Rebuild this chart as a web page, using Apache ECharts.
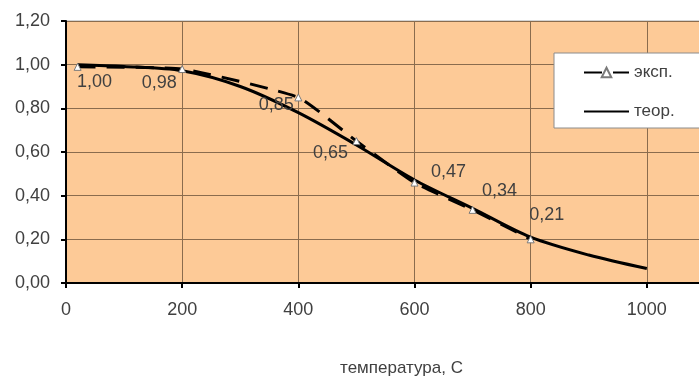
<!DOCTYPE html>
<html>
<head>
<meta charset="utf-8">
<script src="https://cdn.jsdelivr.net/npm/echarts@6/dist/echarts.min.js"></script>
<style>html,body{margin:0;padding:0;background:#fff}#c{width:699px;height:380px}</style>
</head>
<body>
<div id="c"></div>
<script>
// ---- data ----
var seriesNames = ['эксп.', 'теор.'];
var xTitle = 'температура, С';
var expX = [20, 200, 400, 500, 600, 700, 800];
var expY = [0.99, 0.98, 0.85, 0.65, 0.46, 0.335, 0.20];
var expLabels = ['1,00', '0,98', '0,85', '0,65', '0,47', '0,34', '0,21'];
var theoX = [20, 100, 200, 300, 400, 500, 600, 700, 800, 900, 1000];
var theoY = [1.00, 0.992, 0.972, 0.90, 0.78, 0.632, 0.472, 0.342, 0.21, 0.128, 0.066];
var xTicks = [0, 200, 400, 600, 800, 1000, 1200];
var yTicks = [0, 0.2, 0.4, 0.6, 0.8, 1.0, 1.2];

// ---- layout / style (not data) ----
var labelOffsets = [[17, 15], [-23, 14], [-22, 8], [-26, 12], [34, -11], [27, -19], [16, -24]];
var FONT = '"Liberation Sans", Arial, sans-serif';
var TXT = '#404040';

var expData = expX.map(function (x, i) {
  return { value: [x, expY[i]], label: { offset: labelOffsets[i], formatter: expLabels[i] } };
});
var theoData = theoX.map(function (x, i) { return [x, theoY[i]]; });

var chart = echarts.init(document.getElementById('c'), null, { renderer: 'canvas' });
chart.setOption({
  animation: false,
  backgroundColor: '#ffffff',
  textStyle: { fontFamily: FONT },
  grid: {
    left: 66, top: 21, width: 697, height: 262,
    containLabel: false, outerBoundsMode: 'none',
    show: true, backgroundColor: '#FDCA97', borderColor: '#a8a8a8', borderWidth: 1
  },
  legend: {
    data: [seriesNames[0], seriesNames[1]],
    orient: 'vertical',
    left: 554, top: 53,
    backgroundColor: '#ffffff',
    borderColor: '#8c8c8c', borderWidth: 1, borderRadius: 0,
    padding: [11, 40, 8, 29],
    itemWidth: 45, itemHeight: 12, itemGap: 22,
    textStyle: { fontFamily: FONT, fontSize: 17, color: TXT }
  },
  xAxis: {
    type: 'value',
    min: xTicks[0], max: xTicks[xTicks.length - 1], interval: 200,
    name: xTitle, nameLocation: 'middle', nameGap: 77,
    nameTextStyle: { fontFamily: FONT, fontSize: 17, color: TXT, padding: [0, 26, 0, 0] },
    axisLine: { lineStyle: { color: '#000', width: 2 } },
    axisTick: { show: true, inside: false, length: 5, lineStyle: { color: '#000', width: 2 } },
    axisLabel: { margin: 18, fontFamily: FONT, fontSize: 18, color: TXT,
      formatter: function (v) { return String(v); } },
    splitLine: { show: true, lineStyle: { color: '#8a6c4e', width: 1 } }
  },
  yAxis: {
    type: 'value',
    min: yTicks[0], max: yTicks[yTicks.length - 1], interval: 0.2,
    axisLine: { show: true, lineStyle: { color: '#000', width: 2 } },
    axisTick: { show: true, inside: false, length: 5, lineStyle: { color: '#000', width: 2 } },
    axisLabel: {
      margin: 16, fontFamily: FONT, fontSize: 18, color: TXT,
      formatter: function (v) { return v.toFixed(2).replace('.', ','); }
    },
    splitLine: { show: true, lineStyle: { color: '#8a6c4e', width: 1 } }
  },
  series: [
    {
      name: seriesNames[1],
      type: 'line',
      data: theoData,
      smooth: 0.3,
      showSymbol: false,
      symbol: 'none',
      lineStyle: { color: '#000', width: 3 },
      itemStyle: { color: 'rgba(0,0,0,0)', borderWidth: 0 },
      z: 2
    },
    {
      name: seriesNames[0],
      type: 'line',
      data: expData,
      smooth: 0.15,
      symbol: 'triangle',
      symbolSize: 7,
      lineStyle: { color: '#000', width: 3, type: [18, 11] },
      itemStyle: { color: '#ffffff', borderColor: '#7a7a7a', borderWidth: 1 },
      label: {
        show: true, position: 'inside', align: 'center', verticalAlign: 'middle',
        fontFamily: FONT, fontSize: 18, color: TXT
      },
      z: 3
    }
  ]
});
</script>
</body>
</html>
